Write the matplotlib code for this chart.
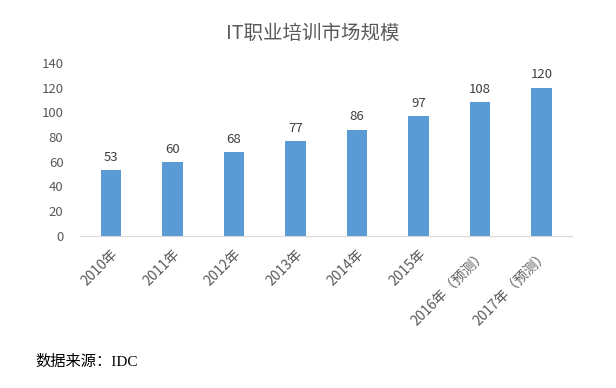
import matplotlib
matplotlib.use("Agg")
import matplotlib.pyplot as plt

plt.rcParams["font.family"] = ["Noto Sans CJK SC", "DejaVu Sans"]

# data
years = ["2010年", "2011年", "2012年", "2013年", "2014年", "2015年",
         "2016年（预测）", "2017年（预测）"]
values = [53, 60, 68, 77, 86, 97, 108, 120]
yticks = [0, 20, 40, 60, 80, 100, 120, 140]

fig = plt.figure(figsize=(6.16, 3.88), dpi=100)
ax = fig.add_axes([0.13, 0.392, 0.799, 0.446])

x = range(len(years))
bars = ax.bar(x, values, width=0.33, color="#5B9BD5")
for xi, v in zip(x, values):
    ax.text(xi, v + 5, str(v), ha="center", va="bottom", fontsize=9.5, color="#404040")

ax.set_xlim(-0.5, len(years) - 0.5)
ax.set_ylim(0, 140)
ax.set_yticks(yticks)
ax.set_xticks(list(x))
ax.set_xticklabels(years, rotation=45, ha="right", rotation_mode="anchor",
                   fontsize=10, color="#595959")
ax.tick_params(axis="y", length=0, labelsize=9.5, labelcolor="#595959", pad=12)
ax.tick_params(axis="x", length=0, pad=8)
for s in ["top", "right", "left"]:
    ax.spines[s].set_visible(False)
ax.spines["bottom"].set_color("#D9D9D9")

fig.text(0.507, 0.915, "IT职业培训市场规模", ha="center", va="center",
         fontsize=14, color="#595959")
fig.text(0.057, 0.067, "数据来源：IDC", ha="left", va="center", fontsize=11,
         color="black", family=["Liberation Serif", "Noto Sans CJK SC"])

fig.savefig("out.png", dpi=100)
